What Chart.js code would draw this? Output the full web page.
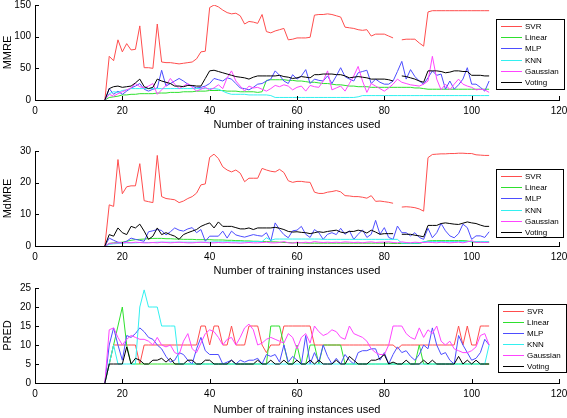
<!DOCTYPE html>
<html>
<head>
<meta charset="utf-8">
<script src="https://cdn.jsdelivr.net/npm/chart.js@4.4.0/dist/chart.umd.min.js"></script>
<style>
  html, body { margin: 0; padding: 0; background: #fff; }
  body { width: 567px; height: 418px; position: relative; overflow: hidden; }
  canvas { position: absolute; left: 0; }
</style>
</head>
<body>
<canvas id="chartMMRE" width="567" height="140" style="top:0px"></canvas>
<canvas id="chartMdMRE" width="567" height="140" style="top:146px"></canvas>
<canvas id="chartPRED" width="567" height="140" style="top:283px"></canvas>
<script>
// number of training instances (x values)
const trainSizes = [16, 17, 18, 19, 20, 21, 22, 23, 24, 25,
  26, 27, 28, 29, 30, 31, 32, 33, 34, 35,
  36, 37, 38, 39, 40, 41, 42, 43, 44, 45,
  46, 47, 48, 49, 50, 51, 52, 53, 54, 55,
  56, 57, 58, 59, 60, 61, 62, 63, 64, 65,
  66, 67, 68, 69, 70, 71, 72, 73, 74, 75,
  76, 77, 78, 79, 80, 81, 82, 83, 84, 85,
  86, 87, 88, 89, 90, 91, 92, 93, 94, 95,
  96, 97, 98, 99, 100, 101, 102, 103, 104];

const modelNames = ['SVR', 'Linear', 'MLP', 'KNN', 'Gaussian', 'Voting'];
const modelColors = ['#ff4d4d', '#2ee02e', '#4d4dff', '#33f0f0', '#ff44ff', '#000000'];

const xTicks = [0, 20, 40, 60, 80, 100, 120];

// ---- MMRE ----
const svrMMRE = [0, 69, 62, 95, 76, 89, 79, 80, 117, 51,
  51, 50, 120, 60, 59, 59, 58, 57, 58, 59,
  60, 65, 76, 77, 146, 150, 147, 142, 138, 136,
  137, 133, 120, 124, 123, 121, 135, 108, 106, 109,
  111, 113, 95, 96, 98, 98, 98, 99, 134, 135,
  135, 136, 135, 133, 131, 115, 114, 113, 111, 110,
  111, 101, 104, 104, 104, 101, 98, null, 95, 96,
  96, 96, 90, 85, 139, 141, 141, 141, 141, 141,
  141, 141, 141, 141, 141, 141, 141, 141, 141];
const linearMMRE = [0, 4, 5, 6, 8, 8, 9, 9, 10, 10,
  10, 10, 11, 11, 11, 12, 12, 12, 13, 13,
  13, 14, 14, 14, 15, 15, 15, 15, 14, 14,
  14, 13, 13, 13, 13, 12, 13, 31, 32, 32,
  32, 32, 31, 31, 30, 30, 29, 28, 28, 27,
  26, 26, 25, 24, 24, 23, 22, 22, 21, 21,
  21, 20, 20, 20, 20, 20, 20, 20, 20, 20,
  20, 19, 19, 18, 17, 17, 17, 17, 17, 17,
  17, 17, 17, 17, 17, 17, 17, 17, 17];
const mlpMMRE = [0, 18, 9, 14, 9, 14, 19, 22, 26, 17,
  14, 17, 19, 47, 22, 26, 30, 34, 30, 25,
  22, 19, 20, 22, 26, 34, 32, 30, 35, 33,
  26, 19, 18, 16, 20, 25, 26, 30, 33, 46,
  39, 30, 26, 40, 33, 38, 48, 26, 33, 31,
  30, 38, 26, 38, 51, 37, 33, 30, 43, 45,
  47, 26, 33, 28, 25, 25, 30, 45, 61, 33,
  48, 37, 30, 25, 35, 46, 39, 41, 17, 30,
  17, 24, 33, 51, 25, 25, 20, 14, 30];
const knnMMRE = [0, 10, 13, 12, 15, 16, 18, 18, 18, 18,
  18, 18, 18, 18, 18, 18, 18, 18, 18, 18,
  18, 18, 18, 18, 18, 18, 17, 14, 11, 9,
  9, 9, 9, 8, 8, 8, 8, 8, 7, 4,
  4, 4, 4, 4, 4, 4, 4, 4, 4, 4,
  4, 4, 4, 4, 4, 4, 4, 4, 5, 7,
  7, 7, 7, 7, 7, 7, 7, 7, 7, 7,
  7, 7, 7, 7, 7, 7, 7, 7, 7, 7,
  7, 7, 7, 7, 7, 7, 7, 7, 7];
const gaussMMRE = [0, 9, 6, 10, 13, 16, 19, 26, 21, 19,
  22, 26, 9, 16, 23, 34, 25, 18, 22, 26,
  20, 14, 17, 20, 16, 19, 24, 18, 35, 46,
  30, 22, 14, 22, 19, 20, 17, 14, 18, 23,
  21, 24, 22, 16, 20, 22, 14, 23, 21, 20,
  30, 46, 16, 19, 22, 14, 26, 38, 53, 30,
  12, 26, 22, 18, 14, 19, 25, 33, 28, 26,
  24, 23, 22, 25, 30, 69, 33, 16, 25, 16,
  25, 33, 25, 22, 20, 16, 17, 16, 12];
const votingMMRE = [0, 18, 21, 22, 20, 21, 22, 27, 33, 21,
  18, 20, 33, 30, 28, 26, 22, 22, 21, 23,
  23, 22, 22, 34, 46, 47, 45, 43, 41, 39,
  37, 36, 35, 33, 36, 38, 38, 38, 38, 38,
  39, 37, 36, 34, 35, 37, 36, 35, 40, 40,
  41, 41, 41, 40, 40, 38, 35, 36, 37, 36,
  35, 33, 33, 33, 33, 32, 30, null, 38, 37,
  35, 33, 30, 28, 46, 46, 46, 45, 43, 44,
  46, 46, 45, 45, 39, 39, 39, 38, 38];

// ---- MdMRE ----
const svrMdMRE = [0, 13, 12.5, 27.3, 16.5, 18.7, 19, 19, 26, 14.3,
  14, 13.7, 28.6, 15.6, 15, 14.8, 14.6, 13.7, 14.2, 15,
  15.6, 16.7, 19.3, 19.6, 28, 29, 27.6, 25, 24, 23.4,
  24, 23, 20.3, 21.4, 21.4, 21.4, 24.5, 24, 23.6, 23.4,
  24.2, 23.2, 20.6, 20.1, 20.4, 20.4, 20.2, 20.1, 17, 16.6,
  16.6, 17, 17.2, 17.5, 17.1, 15.9, 15.8, 15.6, 15.6, 15.4,
  15.1, 15.9, 14.1, 14.2, 14, 13.8, 13.5, null, 12.3, 12.4,
  12.3, 12.1, 11.7, 11, 27.9, 28.9, 29, 29.1, 29.1, 29.2,
  29.2, 29.3, 29.3, 29.2, 29.2, 28.8, 28.7, 28.6, 28.6];
const linearMdMRE = [0, 0.8, 1, 1.1, 1.2, 1.5, 1.8, 2, 2.1, 2.2,
  2.3, 2.4, 2.4, 2.4, 2.3, 2.3, 2.2, 2.2, 2.1, 2.1,
  2.1, 2, 2, 2, 2, 1.9, 1.9, 1.9, 1.8, 1.8,
  1.7, 1.7, 1.6, 1.6, 1.5, 1.5, 1.4, 1.4, 1.3, 1.3,
  1.2, 1.1, 1.1, 1, 1, 1, 0.9, 0.9, 0.9, 0.9,
  0.9, 0.9, 0.9, 0.9, 0.9, 0.9, 0.9, 0.9, 0.9, 0.9,
  0.9, 0.9, 0.9, 0.9, 0.9, 0.9, 0.8, 0.8, 0.8, 0.8,
  0.8, 0.8, 0.8, 1.2, 1.6, 1.7, 1.7, 1.7, 1.7, 1.7,
  1.7, 1.7, 1.7, 1.6, 1.3, 1.2, 1.2, 1.2, 1.2];
const mlpMdMRE = [0, 2.5, 1.8, 1.2, 1, 1.5, 2.5, 2.1, 1.8, 1.5,
  4.5, 4.8, 5.2, 4.9, 3.5, 4.5, 5.7, 5, 4.7, 5.4,
  5.8, 4.2, 5.2, 1.5, 3.1, 3.1, 3.1, 4.7, 2.5, 4.7,
  3.5, 3.1, 2.8, 3.2, 3.6, 3.3, 3.1, 4.2, 1.5, 7.3,
  5.2, 3.6, 2.6, 4.8, 5, 6.2, 3.7, 2.7, 5.2, 4.2,
  2.1, 3.7, 4.2, 3.6, 5.6, 3.7, 4.8, 2.1, 3.7, 5.1,
  2.7, 3.7, 8.1, 3.7, 5.8, 2.7, 2.1, 6.3, 4.2, 4.2,
  3.2, 4.2, 2.7, 2.1, 5.6, 2.6, 4.2, 7.1, 4.8, 3.2,
  2.6, 3.9, 6.9, 5.8, 2.1, 3.2, 3.2, 2.7, 4.5];
const knnMdMRE = [0, 0.5, 0.7, 0.8, 0.9, 1, 1, 1, 1.1, 1.1,
  1.1, 1.1, 1.2, 1.2, 1.2, 1.2, 1.2, 1.2, 1.2, 1.2,
  1.2, 1.2, 1.2, 1.2, 1.2, 1.3, 1.3, 1.3, 1.3, 1.3,
  1.3, 1.3, 1.3, 1.3, 1.4, 1.4, 1.4, 2.6, 1.8, 2.2,
  2.2, 2.2, 2.2, 2.2, 2.2, 2.2, 2.2, 2.2, 2.2, 2.2,
  2.1, 2.1, 2.1, 2.1, 2.1, 2.1, 2.1, 2.1, 2.1, 2.1,
  2.1, 2.1, 2.1, 2.1, 2.1, 2.1, 2.1, 2.1, 0.9, 0.9,
  0.9, 0.9, 0.9, 1.4, 1.4, 1.4, 1.4, 1.4, 1.4, 1.4,
  1.4, 1.4, 1.4, 1.4, 1.4, 1.4, 1.4, 1.4, 1.4];
const gaussMdMRE = [0, 0.8, 0.9, 1, 1, 1.1, 1, 1.2, 1.1, 1,
  1, 1.1, 1, 1.2, 1.1, 1, 1.1, 1.2, 1.1, 1,
  1, 1.1, 1.2, 1.1, 1, 1, 1.1, 1, 1.1, 1,
  1, 0.9, 1, 1.1, 1, 1, 1.1, 1.2, 1, 1,
  1.1, 1.4, 1, 0.9, 1.2, 1, 1.2, 1, 1.4, 1.2,
  1.1, 1.2, 1.1, 1.2, 1.1, 1.3, 1.2, 1.1, 1.2, 1,
  1.2, 1.3, 1.1, 1.2, 1.2, 1.3, 1.1, 1, 1.3, 1.1,
  1, 1.2, 1.1, 1.1, 1.2, 1.1, 1, 1.2, 1.1, 1,
  1.1, 1.2, 1, 1.3, 1.7, 1.1, 1.2, 1.1, 1.2];
const votingMdMRE = [0, 3.6, 3.1, 5.7, 4.2, 3.6, 6.2, 5.7, 6.9, 4.7,
  2.1, 3.1, 5.7, 3.6, 4.2, 3.6, 3.1, 2.1, 3.6, 4.2,
  4.7, 5.2, 6.2, 6.8, 7.3, 5.7, 7.6, 6.2, 6.2, 6.2,
  5.8, 5.4, 5.4, 5.7, 5.2, 5.7, 5.7, 5.7, 5.7, 5.9,
  5.6, 5.2, 4.6, 4.4, 4.5, 4.3, 4.2, 3.9, 4.2, 4.5,
  4.3, 4.6, 4.8, 5, 4.4, 4.1, 4.6, 4.6, 5, 4.7,
  4.1, 5, 4.4, 3.7, 3.9, 3.9, 3.9, null, 3.7, 3.7,
  3.7, 3.4, 3.2, 2.9, 6.5, 6.5, 6.5, 7.1, 7.3, 7.1,
  6.9, 6.8, 7.2, 7.6, 7.3, 7.1, 6.6, 6.2, 6.2];

// ---- PRED ----
const svrPRED = [0, 5, 10, 10, 10, 10, 10, 10, 5, 10,
  10, 10, 10, 10, 10, 10, 10, 10, 10, 10,
  10, 10, 15, 15, 10, 15, 15, 10, 10, 15,
  10, 10, 10, 15, 15, 15, 10, 8, 10, 10,
  10, 15, 15, 15, 15, 15, 15, 15, 10, 10,
  10, 10, 10, 10, 10, 10, 10, 10, 10, 10,
  10, 10, 10, 10, 10, 10, 10, 9, 10, 10,
  10, 10, 10, 10, 10, 10, 10, 10, 10, 10,
  10, 15, 10, 15, 10, 10, 15, 15, 15];
const linearPRED = [0, 5, 10, 15, 20, 10, 5, 5, 5, 5,
  5, 5, 5, 5, 5, 5, 5, 5, 5, 5,
  5, 5, 5, 5, 5, 5, 5, 5, 5, 5,
  5, 5, 5, 5, 5, 5, 5, 5, 15, 15,
  15, 10, 5, 5, 10, 5, 5, 10, 10, 5,
  10, 10, 10, 10, 10, 5, 5, 5, 5, 5,
  5, 5, 5, 5, 5, 5, 5, 5, 5, 5,
  5, 5, 10, 5, 5, 5, 5, 5, 5, 5,
  5, 5, 5, 5, 5, 5, 5, 5, 5];
const mlpPRED = [0, 10, 14.5, 10, 6, 12.5, 12, 13, 14.5, 13.5,
  12, 11.5, 10, 9, 7, 5.5, 6, 8, 7.5, 6,
  5, 9, 12, 8.5, 7.5, 7.5, 7.5, 5, 5.5, 6,
  5, 6, 5.5, 6, 6, 6.5, 5, 7.5, 7, 7.5,
  5.5, 10, 5.5, 7, 6, 5, 12.5, 5, 8, 5.5,
  10, 7, 5, 6.5, 5, 7.5, 6, 5, 8, 8.5,
  8.5, 9, 9, 6, 8, 5, 7.5, 9.5, 8, 8.5,
  7, 6, 7.5, 10, 9, 14.5, 10, 7.5, 8, 6,
  5, 12.5, 10, 8, 6, 6.5, 8, 11.5, 10];
const knnPRED = [0, 5, 10, 5, 5, 5, 5, 5, 20, 24.5,
  20, 20, 20, 15, 15, 15, 15, 5, 5, 5,
  5, 5, 5, 5, 5, 5, 5, 5, 5, 5,
  5, 5, 5, 5, 5, 5, 5, 5, 5, 5,
  5, 5, 5, 5, 5, 5, 5, 5, 5, 5,
  5, 5, 5, 5, 5, 5, 5, 5, 5, 5,
  5, 5, 5, 5, 5, 5, 5, 5, 5, 5,
  5, 5, 5, 5, 5, 5, 5, 5, 5, 5,
  5, 5, 5, 5, 5, 5, 5, 5, 10];
const gaussPRED = [0, 14, 14.5, 12, 10, 11.5, 12.5, 12, 11.5, 11.5,
  11, 10, 12, 10, 9.5, 10, 8, 7.5, 11, 13,
  9, 8, 10.5, 13, 14, 13.5, 12, 10, 11.5, 12,
  10, 12, 14.5, 15.5, 14, 10, 10.5, 11.5, 12, 11.5,
  11, 10.5, 13, 12, 9, 12, 13, 10.5, 15, 13.5,
  12.5, 13, 14, 13.5, 12, 11.5, 15, 13, 12.5, 12,
  11, 9, 8, 7.5, 7.5, 10, 15, 15, 15, 13,
  12, 11.5, 14.5, 12, 14, 13, 15, 11, 10, 11,
  9, 8.5, 8, 8, 8.5, 9.5, 12.5, 13, 10];
const votingPRED = [0, 5, 5, 5, 5, 9.5, 5, 6.5, 6, 5,
  5, 6, 6, 6.5, 5.5, 6.5, 5, 5, 5, 6,
  6, 5, 5, 6, 6, 5, 5, 5, 5, 6,
  5, 5, 5, 5, 5, 6, 5, 5, 6, 5,
  5, 6, 5, 5, 6, 5, 5, 6, 5, 6,
  5, 5, 5, 6, 5, 5, 7, 6, 5, 5,
  5, 6, 6, 6.5, 7.5, 5, 5.5, 5, 5, 6,
  5, 5, 5, 6, 5, 6, 5, 5, 5, 5,
  5, 7, 5, 6, 5, 6, 5, 5, 5];

const FONT = "'Liberation Sans', Arial, Helvetica, sans-serif";

// inward tick marks, matlab style
const inwardTicks = {
  id: 'inwardTicks',
  afterDatasetsDraw(chart) {
    const { ctx, chartArea: a, scales: { x, y } } = chart;
    ctx.save();
    ctx.strokeStyle = '#000';
    ctx.lineWidth = 1;
    ctx.beginPath();
    x.ticks.forEach(t => {
      const px = Math.round(x.getPixelForValue(t.value)) + 0.5;
      ctx.moveTo(px, a.bottom);
      ctx.lineTo(px, a.bottom - 4);
    });
    y.ticks.forEach(t => {
      const py = Math.round(y.getPixelForValue(t.value)) + 0.5;
      ctx.moveTo(a.left, py);
      ctx.lineTo(a.left + 4, py);
    });
    ctx.stroke();
    ctx.restore();
  }
};

// boxed legend drawn from the datasets
const boxLegend = {
  id: 'boxLegend',
  afterDraw(chart, args, opts) {
    const { ctx } = chart;
    const { left, top, width, height, rowGap } = opts;
    ctx.save();
    ctx.fillStyle = '#fff';
    ctx.fillRect(left, top, width, height);
    ctx.strokeStyle = '#000';
    ctx.lineWidth = 1;
    ctx.strokeRect(left + 0.5, top + 0.5, width, height);
    ctx.font = '8px ' + FONT;
    ctx.textBaseline = 'middle';
    ctx.textAlign = 'left';
    chart.data.datasets.forEach((ds, i) => {
      const yy = Math.round(top + 7 + i * rowGap) + 0.5;
      ctx.strokeStyle = ds.borderColor;
      ctx.lineWidth = 1;
      ctx.beginPath();
      ctx.moveTo(left + 5, yy);
      ctx.lineTo(left + 26, yy);
      ctx.stroke();
      ctx.fillStyle = '#000';
      ctx.fillText(ds.label, left + 29, yy);
    });
    ctx.restore();
  }
};

function makeChart(id, yTitle, yMax, yStep, series, legendBox, titleGap) {
  const datasets = series.map((vals, i) => ({
    label: modelNames[i],
    data: trainSizes.map((x, j) => ({ x: x, y: vals[j] })),
    borderColor: modelColors[i],
    borderWidth: 1,
    pointRadius: 0,
    tension: 0,
    spanGaps: false,
    order: series.length - 1 - i
  }));
  return new Chart(document.getElementById(id), {
    type: 'line',
    data: { datasets },
    options: {
      responsive: false,
      animation: false,
      devicePixelRatio: 1,
      layout: { padding: { top: 5, right: 8, left: 0, bottom: 0 } },
      plugins: {
        legend: { display: false },
        tooltip: { enabled: false },
        boxLegend: legendBox
      },
      scales: {
        x: {
          type: 'linear',
          min: 0, max: 120,
          afterBuildTicks: s => { s.ticks = xTicks.map(v => ({ value: v })); },
          afterFit: s => { s.height = 40; s.paddingLeft = 0; s.paddingRight = 0; },
          grid: { display: false, drawTicks: false },
          border: { color: '#000', width: 1 },
          ticks: { color: '#000', font: { family: FONT, size: 10 }, padding: 5, maxRotation: 0 },
          title: {
            display: true, text: 'Number of training instances used', color: '#000',
            font: { family: FONT, size: 11 }, padding: { top: 0, bottom: titleGap }
          }
        },
        y: {
          min: 0, max: yMax,
          ticks: { stepSize: yStep, color: '#000', font: { family: FONT, size: 10 }, padding: 4 },
          afterFit: s => { s.width = 35; s.paddingTop = 0; s.paddingBottom = 0; },
          grid: { display: false, drawTicks: false },
          border: { color: '#000', width: 1 },
          title: {
            display: true, text: yTitle, color: '#000',
            font: { family: FONT, size: 11 }, padding: { top: 1.5, bottom: 0 }
          }
        }
      }
    },
    plugins: [inwardTicks, boxLegend]
  });
}

makeChart('chartMMRE', 'MMRE', 150, 50,
  [svrMMRE, linearMMRE, mlpMMRE, knnMMRE, gaussMMRE, votingMMRE],
  { left: 496, top: 19, width: 68, height: 70, rowGap: 11.2 }, 8);
makeChart('chartMdMRE', 'MdMRE', 30, 10,
  [svrMdMRE, linearMdMRE, mlpMdMRE, knnMdMRE, gaussMdMRE, votingMdMRE],
  { left: 496, top: 23, width: 67, height: 68, rowGap: 11.2 }, 8);
makeChart('chartPRED', 'PRED', 25, 5,
  [svrPRED, linearPRED, mlpPRED, knnPRED, gaussPRED, votingPRED],
  { left: 498, top: 21, width: 68, height: 68, rowGap: 10.9 }, 6);
</script>
</body>
</html>
